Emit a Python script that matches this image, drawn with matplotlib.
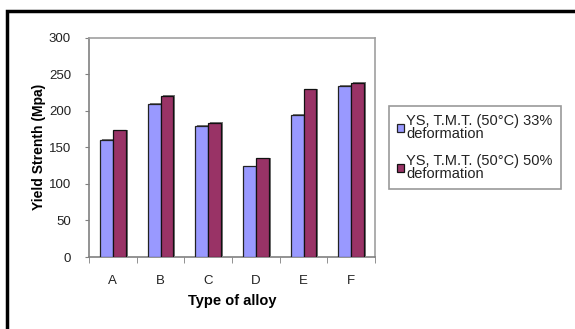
import matplotlib
matplotlib.use("Agg")
import matplotlib.pyplot as plt
import matplotlib.patheffects as pe
from matplotlib.patches import Rectangle
import numpy as np

plt.rcParams['font.family'] = ['Liberation Sans', 'DejaVu Sans']

categories = ["A", "B", "C", "D", "E", "F"]
ys_33 = [160, 209, 179, 124, 194, 234]
ys_50 = [173, 220, 183, 135, 229, 238]
series_labels = ["YS, T.M.T. (50°C) 33%\ndeformation",
                 "YS, T.M.T. (50°C) 50%\ndeformation"]
yticks = [0, 50, 100, 150, 200, 250, 300]

W, H = 575, 329
fig = plt.figure(figsize=(W / 100, H / 100), dpi=100)
fig.patch.set_facecolor("white")

# outer chart frame (extends past the right and bottom edges)
fig.patches.append(Rectangle((7 / W, -0.05), 1.1, 1 - 11 / H + 0.05,
                             transform=fig.transFigure, fill=False,
                             edgecolor="black", linewidth=2.5))

ax = fig.add_axes([89 / W, 1 - 257 / H, (375 - 89) / W, (257 - 37.5) / H])

x = np.arange(len(categories))
bw = 0.27
shadow = [pe.SimplePatchShadow(offset=(1.5, 0.5), shadow_rgbFace="#555555", alpha=0.8),
          pe.Normal()]
b1 = ax.bar(x - bw / 2, ys_33, bw, color="#9999FF", edgecolor="#222222",
            linewidth=0.9, label=series_labels[0], zorder=3)
b2 = ax.bar(x + bw / 2, ys_50, bw, color="#993366", edgecolor="#111111",
            linewidth=0.9, label=series_labels[1], zorder=3)
for bars in (b1, b2):
    for p in bars:
        p.set_path_effects(shadow)

ax.set_xlim(-0.5, len(categories) - 0.5)
ax.set_ylim(0, 300)
ax.set_yticks(yticks)
ax.set_xticks(x)
ax.set_xticklabels(categories)
ax.set_xticks(np.arange(len(categories) + 1) - 0.5, minor=True)
ax.tick_params(axis="x", which="major", length=0, pad=13, labelsize=9.5,
               labelcolor="#222222")
ax.tick_params(axis="x", which="minor", length=4, color="#808080", direction="out")
ax.tick_params(axis="y", length=3, color="#808080", direction="out",
               labelsize=9.5, pad=10, labelcolor="#222222")

for s in ax.spines.values():
    s.set_color("#a0a0a0")
    s.set_linewidth(1.2)
ax.spines["left"].set_color("#808080")
ax.spines["bottom"].set_color("#808080")

ax.set_ylabel("Yield Strenth (Mpa)", fontsize=10, fontweight="bold", labelpad=2)
ax.set_xlabel("Type of alloy", fontsize=10.5, fontweight="bold", labelpad=5)

leg = fig.legend(handles=[b1, b2], labels=series_labels,
                 loc="upper left", bbox_to_anchor=(389 / W, 1 - 106 / H),
                 bbox_transform=fig.transFigure, fontsize=10.5, frameon=True,
                 fancybox=False, handlelength=0.45, handleheight=0.45,
                 handletextpad=0.2, labelspacing=0.85, borderpad=0.55,
                 borderaxespad=0)
leg.get_frame().set_edgecolor("#808080")
leg.get_frame().set_linewidth(1.2)
for t in leg.get_texts():
    t.set_linespacing(0.95)
    t.set_color("#222222")
for h in leg.legend_handles:
    h.set_path_effects([])

fig.savefig("out.png", dpi=100)
